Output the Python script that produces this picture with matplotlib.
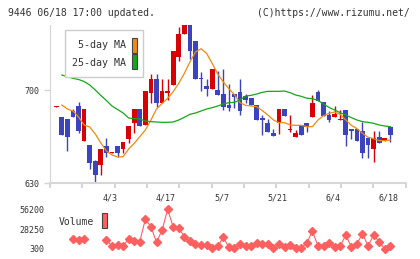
import matplotlib
matplotlib.use("Agg")
import matplotlib.pyplot as plt
import matplotlib.transforms as mtransforms
from matplotlib.patches import Rectangle
import numpy as np

nan = np.nan

# Daily candles (oldest -> newest)
opens = [687.5, 679.5, 678.5, 684.5, 688, 662, 658.5, 646.5, 644, 658,
         652.5, 658, 655.5, 663.5, 675.5, 685.5, 673.5, 698, 708, 690,
         698, 704, 725, 742, 748.5, 736.5, 709, 703, 701, 700,
         697, 689, 697, 698.5, 695.5, 694, 688.5, 679, 675.5, 667.5,
         675.5, 685.5, 670, 664.5, 673.5, 675.5, 679.5, 698.5, 691, 681,
         679.5, 677.5, 685, 670.5, 670.5, 669, 664, 656, 664.5, 661.5,
         672]
highs = [688, 680, 678.5, 685.5, 691, 685.5, 658.5, 647.5, 655.5, 664,
         653.5, 658, 661, 673, 685.5, 685.5, 699.5, 712, 712, 708,
         708, 729, 747, 748.75, 748.75, 736.5, 713.5, 708, 715.5, 714.5,
         715.5, 704.5, 697, 708, 697, 694, 688.5, 681.5, 678.5, 671,
         685.75, 685.5, 681.5, 670, 673.5, 675.5, 696, 700, 691, 684.5,
         688, 685, 685, 670.5, 670.5, 676, 664, 669, 669, 664,
         672]
lows = [687.5, 666, 654.5, 679.5, 667.5, 662, 641, 630, 636, 650,
        652.5, 650, 652.5, 660, 667.5, 673, 673.5, 690, 687, 690,
        692.5, 704, 722, 742, 723, 708.5, 699.5, 695.5, 701, 696.5,
        685, 684.5, 686.5, 681.5, 690, 688.5, 677.5, 666.5, 668.5, 665.5,
        667, 680.5, 668.5, 664.5, 666.5, 668.5, 679.5, 692, 680.5, 676,
        679.5, 677.5, 658, 663, 661.5, 649, 649, 646, 660.5, 661.5,
        661]
closes = [688, 666.5, 664.5, 679.5, 669.5, 685.5, 645.5, 636, 655.5, 652.5,
          653.5, 652.5, 661, 673, 685.5, 673, 699.5, 708, 690, 699.5,
          699.5, 729, 742, 748.5, 729, 708.5, 708, 701, 715.5, 696.5,
          687.5, 686.5, 695, 684.5, 692.5, 688.5, 677.5, 677.5, 668.5, 665.5,
          685.5, 680.5, 671, 667.5, 666.5, 672.5, 690, 692, 680.5, 677.5,
          682, 678, 666.5, 669, 661.5, 653, 659, 664, 660.5, 664,
          666]

# moving averages as drawn on the chart
ma5 = [nan, 688.75, 685.75, 684.25, 679.75, 673.75, 672.25, 667, 660.25, 654.25,
       651.25, 649.75, 650, 655.75, 660, 665, 670, 677.5, 685.75, 690,
       693.75, 698.75, 705, 712.5, 721, 728.5, 731, 727.5, 720, 712,
       706, 701, 696.5, 690.5, 688.5, 688, 687.5, 684.5, 681.25, 677.5,
       675.5, 675.5, 673.75, 673.5, 673.5, 672.5, 672.5, 677.5, 680.75, 682.5,
       683.5, 681.75, 677.5, 673.5, 671, 667.5, 664.5, 663.5, 662, 662,
       662.5]
ma25 = [nan, 711.25, 710, 708.75, 707.9, 706.4, 703.75, 700, 695.9, 692.1,
        688, 685.4, 682.75, 679, 678.5, 678.25, 676.75, 676.25, 676, 675.75,
        675.75, 676, 677.5, 679.5, 681.75, 682.75, 684.25, 685.75, 686.75, 688,
        689.5, 690.5, 690.75, 692.5, 695.5, 696, 697, 698.25, 699, 699,
        699, 699.25, 698, 696.25, 695.25, 693.85, 693.5, 692.25, 689.5, 686.9,
        685, 683, 681.25, 679.25, 677.5, 676.25, 675.75, 675, 673.75, 673,
        672.5]

volume = [nan, nan, nan, 14400, 12500, 14400, nan, nan, nan, 13400,
          4500, 5500, 4500, 14400, 11600, 10600, 42500, 31300, 10200, 26600,
          56200, 31300, 29900, 17200, 11100, 7300, 6400, 5500, 1300, 4100,
          16800, 2700, 1300, 7800, 5000, 4100, 8800, 7800, 6900, 1300,
          7800, 2700, 6400, 1300, 1300, 9200, 25200, 5000, 5000, 9200,
          3100, 4500, 20000, 3100, 7800, 21800, 4500, 20400, 10200, 300,
          4500]

date_pos = [10, 20, 30, 40, 50, 60]
date_labels = ["4/3", "4/17", "5/7", "5/21", "6/4", "6/18"]
price_ticks = [630, 700]
vol_ticks = [300, 28250, 56200]

RED = "#d80000"
BLUE = "#3c44bc"
ORANGE = "#f08a10"
GREEN = "#14a814"
VOLC = "#ff5f5f"
GRAY = "#d6d6d6"
TXT = "#333333"
W, H = 420, 259

plt.rcParams["font.family"] = ["DejaVu Sans Mono"]

fig = plt.figure(figsize=(W / 100, H / 100), dpi=100)


def fx(px):
    return px / W


def fy(py):
    return 1 - py / H


x = np.arange(len(closes))
o = np.array(opens)
c = np.array(closes)
up = c >= o
cols = np.where(up, RED, BLUE)

# main price panel
ax = fig.add_axes([fx(50), fy(183.3), fx(355.7), (183.3 - 24.7) / H])
ax.set_xlim(-1.13, 62.76)
ax.set_ylim(630, 749)
ax.vlines(x, lows, highs, colors=cols, lw=1, zorder=2)
ax.bar(x, np.maximum(np.abs(c - o), 0.7), bottom=np.minimum(o, c),
       width=0.85, color=cols, lw=0, zorder=3)
ax.plot(x, ma5, color=ORANGE, lw=0.9, zorder=4)
ax.plot(x, ma25, color=GREEN, lw=0.9, zorder=4)

for s in ["top", "right"]:
    ax.spines[s].set_visible(False)
ax.spines["left"].set_color(GRAY)
ax.spines["bottom"].set_color(GRAY)
ax.spines["bottom"].set_linewidth(1.5)
ax.set_xticks(np.linspace(-1.13, 62.76, 12))
ax.set_xticklabels([])
ax.tick_params(axis="x", length=3.6, width=1.5, color=GRAY)
ax.set_yticks(price_ticks)
ax.set_yticklabels([str(t) for t in price_ticks])
ax.tick_params(axis="y", length=4.3, width=1, color=GRAY,
               labelsize=6, labelcolor=TXT, pad=3.5)

trans = mtransforms.blended_transform_factory(ax.transData, fig.transFigure)
for p, lab in zip(date_pos, date_labels):
    ax.text(p - 0.3, fy(198), lab, transform=trans, ha="center", va="center",
            fontsize=6, color=TXT)

# price legend
fig.add_artist(Rectangle((fx(65), fy(77.3)), fx(78.3), (77.3 - 30) / H,
                         transform=fig.transFigure, facecolor="white",
                         edgecolor="#cccccc", lw=1, zorder=5))
fig.text(fx(125.5), fy(45.5), "5-day MA", ha="right", va="center",
         fontsize=7.2, color=TXT, zorder=6)
fig.text(fx(125.5), fy(62.5), "25-day MA", ha="right", va="center",
         fontsize=7.2, color=TXT, zorder=6)
fig.add_artist(Rectangle((fx(131.5), fy(52.5)), fx(5.5), 15 / H,
                         transform=fig.transFigure, facecolor=ORANGE,
                         edgecolor="#444444", lw=0.8, zorder=6))
fig.add_artist(Rectangle((fx(131.5), fy(69.3)), fx(5.5), 15 / H,
                         transform=fig.transFigure, facecolor=GREEN,
                         edgecolor="#444444", lw=0.8, zorder=6))

# volume panel
ax2 = fig.add_axes([fx(50), fy(249), fx(355.7), 39.7 / H])
ax2.set_xlim(-1.13, 62.76)
ax2.set_ylim(300, 56200)
ax2.plot(x, volume, color=VOLC, lw=0.8, marker="D", ms=4.2,
         mec=VOLC, mfc=VOLC, clip_on=False)
for s in ax2.spines.values():
    s.set_visible(False)
ax2.set_xticks([])
ax2.set_yticks(vol_ticks)
ax2.set_yticklabels([str(t) for t in vol_ticks])
ax2.tick_params(axis="y", length=0, labelsize=6, labelcolor=TXT, pad=4.3)

fig.text(fx(59), fy(221.7), "Volume", ha="left", va="center",
         fontsize=7, color=TXT)
fig.add_artist(Rectangle((fx(101.7), fy(228.3)), fx(5.6), 15 / H,
                         transform=fig.transFigure, facecolor=VOLC,
                         edgecolor="#444444", lw=0.8))

# header
fig.text(fx(8), fy(12.7), "9446 06/18 17:00 updated.", ha="left",
         va="center", fontsize=7, color=TXT)
fig.text(fx(409.5), fy(12.7), "(C)https://www.rizumu.net/", ha="right",
         va="center", fontsize=7, color=TXT)

fig.savefig("out.png", dpi=100)
